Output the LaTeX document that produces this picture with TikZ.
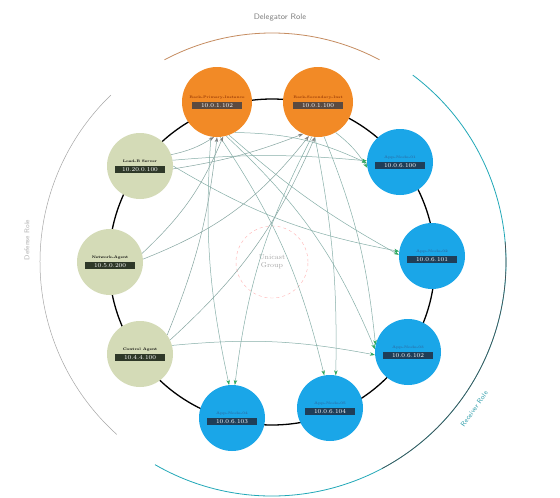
\documentclass[tikz,border=0pt]{standalone}
\usetikzlibrary{arrows.meta,calc}
\definecolor{orn}{HTML}{F28A26}
\definecolor{ornt}{HTML}{9A3A05}
\definecolor{ornb}{HTML}{5B4A40}
\definecolor{grn}{HTML}{D4DBB7}
\definecolor{grnb}{HTML}{2E3828}
\definecolor{blu}{HTML}{1AA6E8}
\definecolor{blub}{HTML}{1F3E58}
\definecolor{blut}{HTML}{2A6FA8}
\definecolor{lnk}{HTML}{86AFA8}
\definecolor{tipg}{HTML}{2EA860}
\definecolor{teal}{HTML}{22A8B8}
\definecolor{arcbrown}{HTML}{B8703A}
\tikzset{
  ringnode/.style={circle,inner sep=0pt,minimum size=#1},
  ttl/.style={font=\fontsize{3.6}{4}\selectfont\bfseries,inner sep=0pt},
  ipbox/.style={font=\fontsize{6}{6}\selectfont,text=white,inner sep=1.4pt,minimum width=50pt},
  conn/.style={draw=lnk,line width=0.5pt,-{Stealth[length=5pt,width=3.5pt,color=tipg]}},
  back/.style={draw=lnk!80!gray,line width=0.5pt,-{Stealth[length=5pt,width=3.5pt,color=gray]}},
}
\newcommand\rnode[8]{%
  \node[ringnode=#3,fill=#4] (#1) at (#2) {};
  \node[ttl,text=#5] (#1t) at ($(#1)+(0,-4.5)$) {#7};
  \node[ipbox,fill=#6] (#1b) at ($(#1)+(0,3.5)$) {#8};
}
\begin{document}
\begin{tikzpicture}[x=1pt,y=-1pt]
\useasboundingbox (0,0) rectangle (560,498);
\fill[white] (0,0) rectangle (560,498);
\coordinate (c) at (272,262);
% outer arcs
\draw[arcbrown!80,line width=0.8pt] ($(c)+(118:229pt)$) arc[start angle=118,end angle=62,radius=229pt];
\draw[gray!70,line width=0.5pt] ($(c)+(134:232pt)$) arc[start angle=134,end angle=228,radius=232pt];
\draw[teal,line width=0.8pt] ($(c)+(53:234pt)$) arc[start angle=53,end angle=-120,radius=234pt];
\draw[black!70,line width=0.6pt] ($(c)+(5:234pt)$) arc[start angle=5,end angle=-62,radius=234pt];
\node[text=gray,font=\sffamily\fontsize{8}{8}\selectfont] (tl) at (280,18) {Delegator Role};
\node[text=gray!60,font=\sffamily\fontsize{7}{7}\selectfont,rotate=90] (ll) at (27,240) {Defense Role};
\node[text=teal!80!gray,font=\sffamily\fontsize{7}{7}\selectfont,rotate=55] (rl) at ($(c)+(-36:250pt)$) {Receiver Role};
% ring
\draw[line width=1.3pt] (c) circle[radius=163pt];
% center
\draw[red!30,dashed,line width=0.4pt] (c) circle[radius=36pt];
\node[text=gray!70,font=\fontsize{7}{8}\selectfont,align=center] (ct) at (c) {Unicast\\Group};
% nodes
\rnode{o1}{217,102}{70pt}{orn}{ornt}{ornb}{Rack-Primary-Instance}{10.0.1.102}
\rnode{o2}{318,102}{70pt}{orn}{ornt}{ornb}{Rack-Secondary-Inst}{10.0.1.100}
\rnode{g1}{140,166}{66pt}{grn}{black}{grnb}{Load-B Server}{10.20.0.100}
\rnode{g2}{110,262}{66pt}{grn}{black}{grnb}{Network-Agent}{10.5.0.200}
\rnode{g3}{140,354}{66pt}{grn}{black}{grnb}{Control Agent}{10.4.4.100}
\rnode{b1}{400,162}{66pt}{blu}{blut}{blub}{App-Node-01}{10.0.6.100}
\rnode{b2}{432,256}{66pt}{blu}{blut}{blub}{App-Node-02}{10.0.6.101}
\rnode{b3}{408,352}{66pt}{blu}{blut}{blub}{App-Node-03}{10.0.6.102}
\rnode{b4}{232,418}{66pt}{blu}{blut}{blub}{App-Node-04}{10.0.6.103}
\rnode{b5}{330,408}{66pt}{blu}{blut}{blub}{App-Node-05}{10.0.6.104}
% connectors: orange -> blue
\draw[conn] (o1.-100) to[bend right=8] (b4.95);
\draw[conn] (o1.-85) to[bend left=10] (b5.100);
\draw[conn] (o1.-75) to[bend left=12] (b3.175);
\draw[conn] (o1.-60) to[bend left=12] (b1.182);
\draw[conn] (o1.-70) to[bend right=6] (b2.178);
\draw[conn] (o2.-100) to[bend right=10] (b4.85);
\draw[conn] (o2.-95) to[bend left=6] (b5.80);
\draw[conn] (o2.-80) to[bend left=8] (b3.168);
\draw[conn] (o2.-60) to[bend left=10] (b1.190);
% green -> blue
\draw[conn] (g1.10) to[bend left=5] (b1.178);
\draw[conn] (g1.0) to[bend right=10] (b2.172);
\draw[conn] (g3.15) to[bend left=8] (b3.185);
% green -> orange
\draw[back] (g1.20) to[bend right=10] (o1.-95);
\draw[back] (g2.5) to[bend right=15] (o2.-105);
\draw[back] (g2.15) to[bend right=12] (o1.-80);
\draw[back] (g3.25) to[bend right=12] (o2.-95);
\draw[back] (g3.35) to[bend right=8] (o1.-90);
\draw[back] (g1.-5) to[bend right=6] (o2.-115);
\end{tikzpicture}
\end{document}
